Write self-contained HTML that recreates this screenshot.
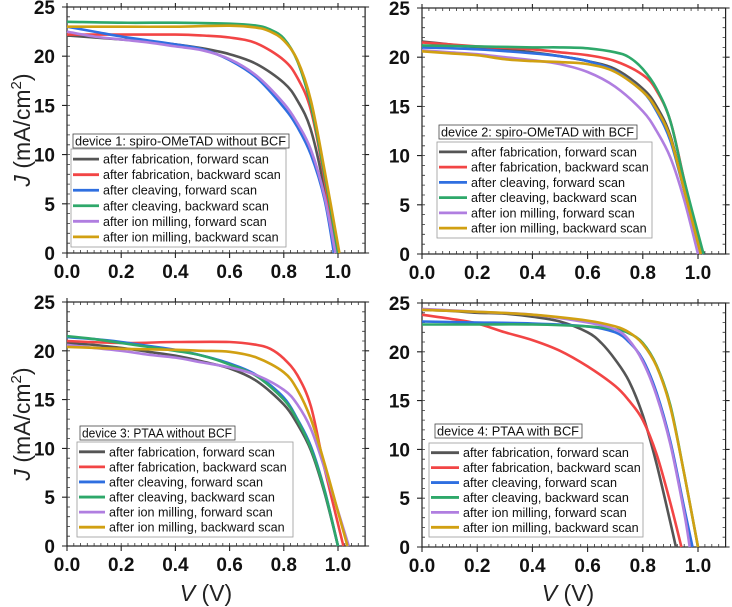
<!DOCTYPE html>
<html><head><meta charset="utf-8"><style>
html,body{margin:0;padding:0;background:#fff;}
svg{display:block;font-family:"Liberation Sans",sans-serif;}
</style></head><body>
<svg id="chart" width="732" height="607" viewBox="0 0 732 607" xmlns="http://www.w3.org/2000/svg"></svg>
<script>
const seriesLabels = ["after fabrication, forward scan","after fabrication, backward scan","after cleaving, forward scan","after cleaving, backward scan","after ion milling, forward scan","after ion milling, backward scan"];
const seriesNames = ["fab-forward","fab-backward","cleave-forward","cleave-backward","mill-forward","mill-backward"];
const seriesColors = ["#555555","#f24545","#2f6fe0","#2ea86a","#b07ee0","#d1a012"];
const deviceTitles = ["device 1: spiro-OMeTAD without BCF","device 2: spiro-OMeTAD with BCF","device 3: PTAA without BCF","device 4: PTAA with BCF"];
const xTicks = [0,0.2,0.4,0.6,0.8,1.0];
const xTickLabels = ["0.0","0.2","0.4","0.6","0.8","1.0"];
const yTicks = [0,5,10,15,20,25];
const yTickLabels = ["0","5","10","15","20","25"];

// device 1
const d1v = [
 [0,.1,.2,.3,.4,.5,.6,.7,.8,.85,.9,.95,.99],
 [0,.2,.4,.5,.6,.7,.8,.85,.9,.95,.99],
 [0,.1,.2,.3,.4,.5,.6,.7,.8,.85,.9,.95,.985],
 [0,.2,.4,.6,.7,.75,.8,.85,.9,.95,1.0],
 [0,.1,.2,.3,.4,.5,.6,.7,.8,.85,.9,.95,.99],
 [0,.2,.4,.6,.7,.75,.8,.85,.9,.95,1.005]];
const d1j = [
 [22.1,21.9,21.7,21.5,21.2,20.8,20.2,19.2,17.3,15.5,12.5,6.5,0],
 [22.2,22.2,22.2,22.1,21.9,21.3,19.6,17.8,14.5,7.5,0],
 [23.0,22.5,22.0,21.6,21.2,20.7,19.6,17.8,14.8,12.8,10,5.5,0],
 [23.5,23.4,23.4,23.3,23.1,22.7,21.8,19.5,15,8,0],
 [22.5,22.0,21.7,21.4,21.0,20.6,19.7,18.0,15.2,13.2,10.5,5.8,0],
 [23.0,23.0,23.0,23.1,22.9,22.5,21.6,19.6,15.5,8.5,0]];
// device 2
const d2v = [
 [0,.1,.2,.3,.4,.5,.6,.7,.8,.85,.9,.95,1.01],
 [0,.2,.4,.5,.6,.7,.8,.85,.9,.95,1.01],
 [0,.2,.4,.5,.6,.7,.8,.85,.9,.95,1.02],
 [0,.2,.4,.5,.6,.7,.75,.8,.85,.9,.95,1.02],
 [0,.1,.2,.3,.4,.5,.6,.7,.8,.85,.9,.95,1.0],
 [0,.1,.2,.3,.4,.5,.6,.7,.8,.85,.9,.95,1.01]];
const d2j = [
 [21.6,21.3,21.0,20.8,20.5,20.1,19.6,18.8,16.8,15,12,6.5,0],
 [21.5,21.1,20.8,20.5,20.2,19.6,18.2,16.6,13.5,7.5,0],
 [21.0,20.8,20.4,20.1,19.6,18.6,16.5,14.5,11.5,6.5,0],
 [21.2,21.1,21.0,21.0,20.9,20.5,20.0,18.8,16.8,13.5,7.5,0],
 [20.7,20.5,20.3,20.0,19.7,19.3,18.5,17.0,14.5,12.5,9.8,5.5,0],
 [20.6,20.4,20.2,19.8,19.6,19.5,19.3,18.5,16.5,14.7,11.8,6.5,0]];
// device 3
const d3v = [
 [0,.1,.2,.3,.4,.5,.6,.7,.8,.85,.9,.95,1.0],
 [0,.2,.4,.6,.7,.75,.8,.85,.9,.95,1.02],
 [0,.1,.2,.3,.4,.5,.6,.7,.8,.85,.9,.95,1.0],
 [0,.1,.2,.3,.4,.5,.6,.7,.8,.85,.9,.95,1.0],
 [0,.1,.2,.3,.4,.5,.6,.7,.8,.85,.9,.95,1.04],
 [0,.2,.4,.5,.6,.7,.8,.85,.9,.95,1.0,1.035]];
const d3j = [
 [20.8,20.6,20.3,19.9,19.5,18.9,18.2,16.9,14.5,12.5,9.8,5.5,0],
 [21.0,20.8,20.9,20.9,20.6,20.2,19.2,17.5,14.3,8,0],
 [21.4,21.2,20.9,20.5,20.1,19.5,18.7,17.5,15.2,13,10.2,5.8,0],
 [21.5,21.2,20.8,20.4,20.0,19.5,18.6,17.4,15.0,12.9,10,5.7,0],
 [20.6,20.3,20.0,19.6,19.3,18.8,18.3,17.5,16.0,14.5,12,8,0],
 [20.4,20.2,20.1,20.0,19.9,19.3,17.8,16,13,8.5,3.5,0]];
// device 4
const d4v = [
 [0,.1,.2,.3,.4,.5,.6,.65,.7,.75,.8,.85,.9,.92],
 [0,.1,.2,.3,.4,.5,.6,.7,.75,.8,.85,.9,.94],
 [0,.2,.4,.6,.7,.75,.8,.85,.9,.95,.98],
 [0,.2,.4,.6,.7,.75,.8,.85,.9,.95,1.0],
 [0,.2,.4,.6,.7,.75,.8,.85,.9,.95,.97],
 [0,.2,.4,.6,.7,.75,.8,.85,.9,.95,1.0]];
const d4j = [
 [24.3,24.2,24.0,23.9,23.6,23.1,22.0,20.9,19.2,17,13.5,8.5,2.5,0],
 [23.8,23.4,22.9,22.0,21.2,20.1,18.5,16.5,15,13,9.5,4.5,0],
 [23.1,23.0,22.9,22.6,22.0,21.0,19.2,15.8,10.8,4,0],
 [22.8,22.8,22.8,22.6,22.3,21.9,20.9,18.6,14.5,7.5,0],
 [24.4,24.1,23.8,23.0,22.3,21.2,19.0,15.5,10.5,3.5,0],
 [24.3,24.1,23.8,23.2,22.6,22.0,20.8,18.5,14.3,7.5,0]];

const panelV = [d1v,d2v,d3v,d4v];
const panelJ = [d1j,d2j,d3j,d4j];
const panels = [
 {x0:67,kx:271,yTop:7,yBot:253,title:[73,134,216],leg:[71,149,215,98],tx:100},
 {x0:422,kx:276,yTop:8,yBot:254,title:[439,125,198],leg:[437,142,215,96],tx:468},
 {x0:67,kx:271,yTop:302,yBot:546,title:[80,426,155],leg:[77,442,216,95],tx:106},
 {x0:422,kx:276,yTop:303,yBot:547,title:[435,424,147],leg:[429,443,214,94],tx:460}];

const svg = document.getElementById('chart');
const NS = "http://www.w3.org/2000/svg";
function mk(tag, attrs, parent){const e=document.createElementNS(NS,tag);for(const k in attrs)e.setAttribute(k,attrs[k]);(parent||svg).appendChild(e);return e;}
function smoothPath(P){
  let d=`M${P[0][0].toFixed(1)},${P[0][1].toFixed(1)}`;
  for(let i=0;i<P.length-1;i++){
    const p0=P[i-1]||P[i],p1=P[i],p2=P[i+1],p3=P[i+2]||P[i+1];
    const c1=[p1[0]+(p2[0]-p0[0])/6,p1[1]+(p2[1]-p0[1])/6];
    const c2=[p2[0]-(p3[0]-p1[0])/6,p2[1]-(p3[1]-p1[1])/6];
    d+=`C${c1[0].toFixed(1)},${c1[1].toFixed(1)} ${c2[0].toFixed(1)},${c2[1].toFixed(1)} ${p2[0].toFixed(1)},${p2[1].toFixed(1)}`;
  }
  return d;
}

panels.forEach((p,pi)=>{
  const g = mk('g',{});
  
  
  const xs = v=>p.x0+v*p.kx;
  const ys = j=>p.yBot-(j/25)*(p.yBot-p.yTop);
  const xR = xs(1.1);
  const fr = mk('rect',{x:p.x0,y:p.yTop,width:xR-p.x0,height:p.yBot-p.yTop,fill:'none',stroke:'#222','stroke-width':1.2},g);
  
  
  let d='';
  for(let v=0.025;v<1.1;v+=0.025){const x=xs(v).toFixed(1);d+=`M${x},${p.yBot}v-3M${x},${p.yTop}v3`;}
  for(let j=1;j<25;j++){const y=ys(j).toFixed(1);d+=`M${p.x0},${y}h3M${xR},${y}h-3`;}
  mk('path',{d:d,stroke:'#333','stroke-width':0.8,fill:'none'},g);
  let dm='';
  xTicks.forEach(v=>{const x=xs(v);dm+=`M${x},${p.yBot}v5M${x},${p.yTop}v-4`;});
  yTicks.forEach(j=>{const y=ys(j);dm+=`M${p.x0},${y}h-5M${xR},${y}h4`;});
  mk('path',{d:dm,stroke:'#222','stroke-width':1.1,fill:'none'},g);
  xTicks.forEach((v,i)=>{
    const t=mk('text',{x:xs(v),y:p.yBot+25,'text-anchor':'middle','font-size':19,'font-weight':'bold',fill:'#111'},g);
    t.textContent=xTickLabels[i];
    
    
  });
  yTicks.forEach((j,i)=>{
    const t=mk('text',{x:p.x0-12,y:ys(j)+7,'text-anchor':'end','font-size':19,'font-weight':'bold',fill:'#111'},g);
    t.textContent=yTickLabels[i];
    
    
  });
  panelV[pi].forEach((vs,si)=>{
    const js=panelJ[pi][si];
    const P=vs.map((v,k)=>[xs(v),ys(js[k])]);
    const pl=mk('path',{d:smoothPath(P),fill:'none',stroke:seriesColors[si],'stroke-width':2.6,'stroke-linejoin':'round'},g);
    
    
  });
  const tb=mk('rect',{x:p.title[0],y:p.title[1],width:p.title[2],height:14,fill:'#fff',stroke:'#444','stroke-width':0.8},g);
  
  
  const tt=mk('text',{x:p.title[0]+2,y:p.title[1]+11.5,'font-size':12.6,fill:'#111',textLength:p.title[2]-5,lengthAdjust:'spacingAndGlyphs'},g);
  tt.textContent=deviceTitles[pi];
  
  
  const lg=mk('g',{},g);
  
  
  mk('rect',{x:p.leg[0],y:p.leg[1],width:p.leg[2],height:p.leg[3],fill:'#fff',stroke:'#999','stroke-width':0.8},lg);
  const rowH=p.leg[3]/6.3;
  seriesLabels.forEach((lab,si)=>{
    const cy=p.leg[1]+rowH*(si+0.65);
    const e=mk('g',{},lg);
    
    
    mk('line',{x1:p.leg[0]+2,x2:p.tx-1,y1:cy,y2:cy,stroke:seriesColors[si],'stroke-width':2.8},e);
    const t=mk('text',{x:p.tx+3,y:cy+4.5,'font-size':12.6,fill:'#111'},e);
    t.textContent=lab;
  });
});
function ytitle(cy){
  const t=mk('text',{x:0,y:0,transform:`translate(30,${cy}) rotate(-90)`,'text-anchor':'middle','font-size':23,fill:'#222'});
  t.innerHTML='<tspan font-style="italic">J</tspan> (mA/cm<tspan font-size="15" dy="-9">2</tspan><tspan dy="9">)</tspan>';
  
  
}
ytitle(130); ytitle(424);
function xtitle(cx){
  const t=mk('text',{x:cx,y:601,'text-anchor':'middle','font-size':23,fill:'#222'});
  t.innerHTML='<tspan font-style="italic">V</tspan> (V)';
  
  
}
xtitle(206); xtitle(568);
</script>
</body></html>
